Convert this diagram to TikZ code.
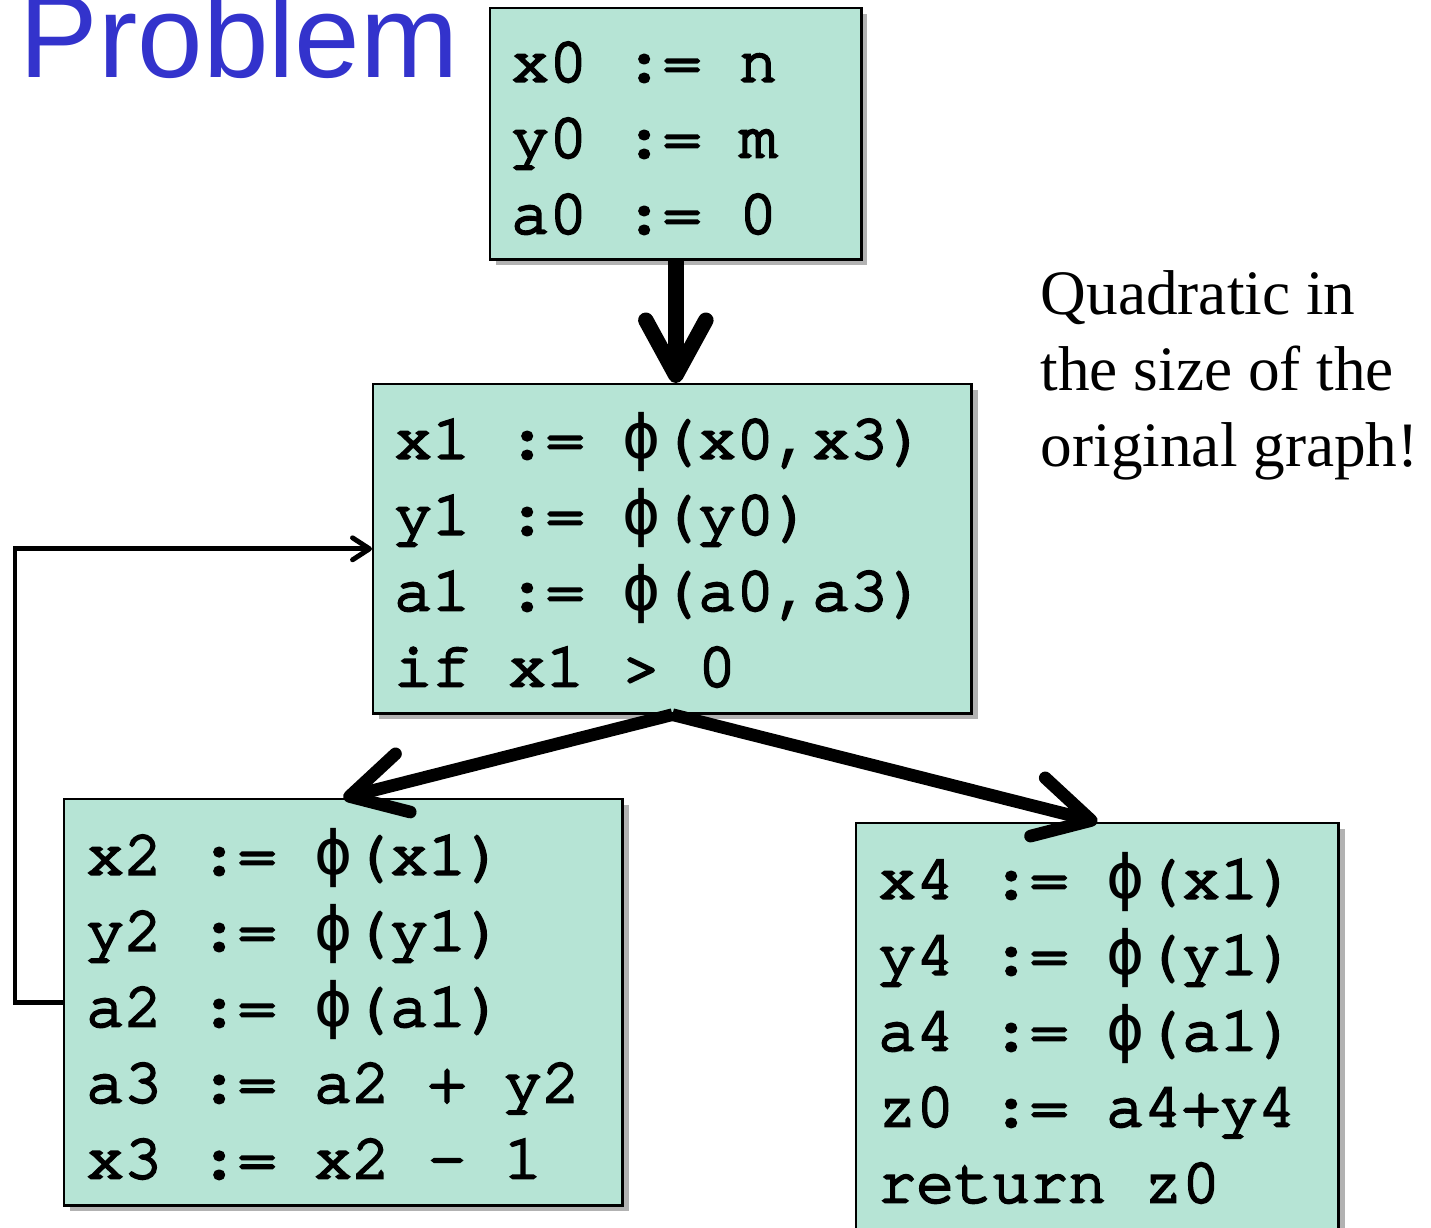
\documentclass[tikz,border=0pt]{standalone}
\usepackage{fontspec}
\setmainfont{Liberation Serif}
\newfontfamily\codefont[FakeBold=4]{texgyrecursor-regular.otf}
\newfontfamily\phifont{DejaVu Sans Mono}
\newfontfamily\titlefont{Liberation Sans}
\usepackage{xcolor}
\usepackage{tikz}
\usetikzlibrary{arrows.meta,positioning,shadows}
\definecolor{blockfill}{RGB}{182,228,213}
\definecolor{titleblue}{RGB}{51,51,204}
\newcommand{\phisym}{{\phifont ϕ}}

\begin{document}
\begin{tikzpicture}[
  x=0.01cm, y=-0.01cm,
  block/.style={draw,line width=0.7pt,fill=blockfill,anchor=north west,align=left,
    inner xsep=0.21cm,inner ysep=0pt,text height=0.74cm,
    font=\codefont\fontsize{18pt}{21.6pt}\selectfont,
    execute at begin node={\spaceskip=0pt\xspaceskip=0pt\relax},
    drop shadow={shadow xshift=0.06cm,shadow yshift=-0.06cm,fill=black,opacity=0.3}},
  flow/.style={-{Straight Barb[length=0.55cm,width=0.6cm,round]},line width=3.6pt},
  back/.style={-{Straight Barb[length=0.17cm,width=0.22cm,round]},line width=1.4pt},
]
\useasboundingbox (0,0) rectangle (1431,1228);
\node[anchor=base west,inner sep=0,text=titleblue,
  font=\titlefont\fontsize{33.5pt}{40pt}\selectfont] (title) at (19,78) {Problem};
\node[block,text width=3.29cm,text height=0.73cm,text depth=1.78cm] (start) at (489,7)
  {x0 := n\\y0 := m\\a0 := 0};
\node[block,text width=5.56cm,text depth=2.55cm] (header) at (372,383)
  {x1 := \phisym(x0,x3)\\y1 := \phisym(y0)\\a1 := \phisym(a0,a3)\\if x1 > 0};
\node[block,inner xsep=0.22cm,text width=5.14cm,text height=0.75cm,text depth=3.31cm] (body) at (63,798)
  {x2 := \phisym(x1)\\y2 := \phisym(y1)\\a2 := \phisym(a1)\\a3 := a2 + y2\\x3 := x2 — 1};
\node[block,inner xsep=0.22cm,text width=4.38cm,text height=0.75cm,text depth=3.35cm] (exit) at (855,822)
  {x4 := \phisym(x1)\\y4 := \phisym(y1)\\a4 := \phisym(a1)\\z0 := a4+y4\\return z0};
\node[anchor=base west,align=left,text width=4cm,inner sep=0,
  execute at begin node={\spaceskip=0pt\xspaceskip=0pt\relax},
  font=\fontsize{18pt}{21.6pt}\selectfont] (note) at (1040,315)
  {Quadratic in\\the size of the\\original graph!};
\draw[flow,line width=4.4pt] (start.south) -- (start.south |- header.north);
\draw[flow] (header.south) -- (body.north);
\draw[flow] (header.south) -- (exit.north);
\draw[back] (body.west) -- ++(-48,0) |- (header.west);
\end{tikzpicture}
\end{document}
